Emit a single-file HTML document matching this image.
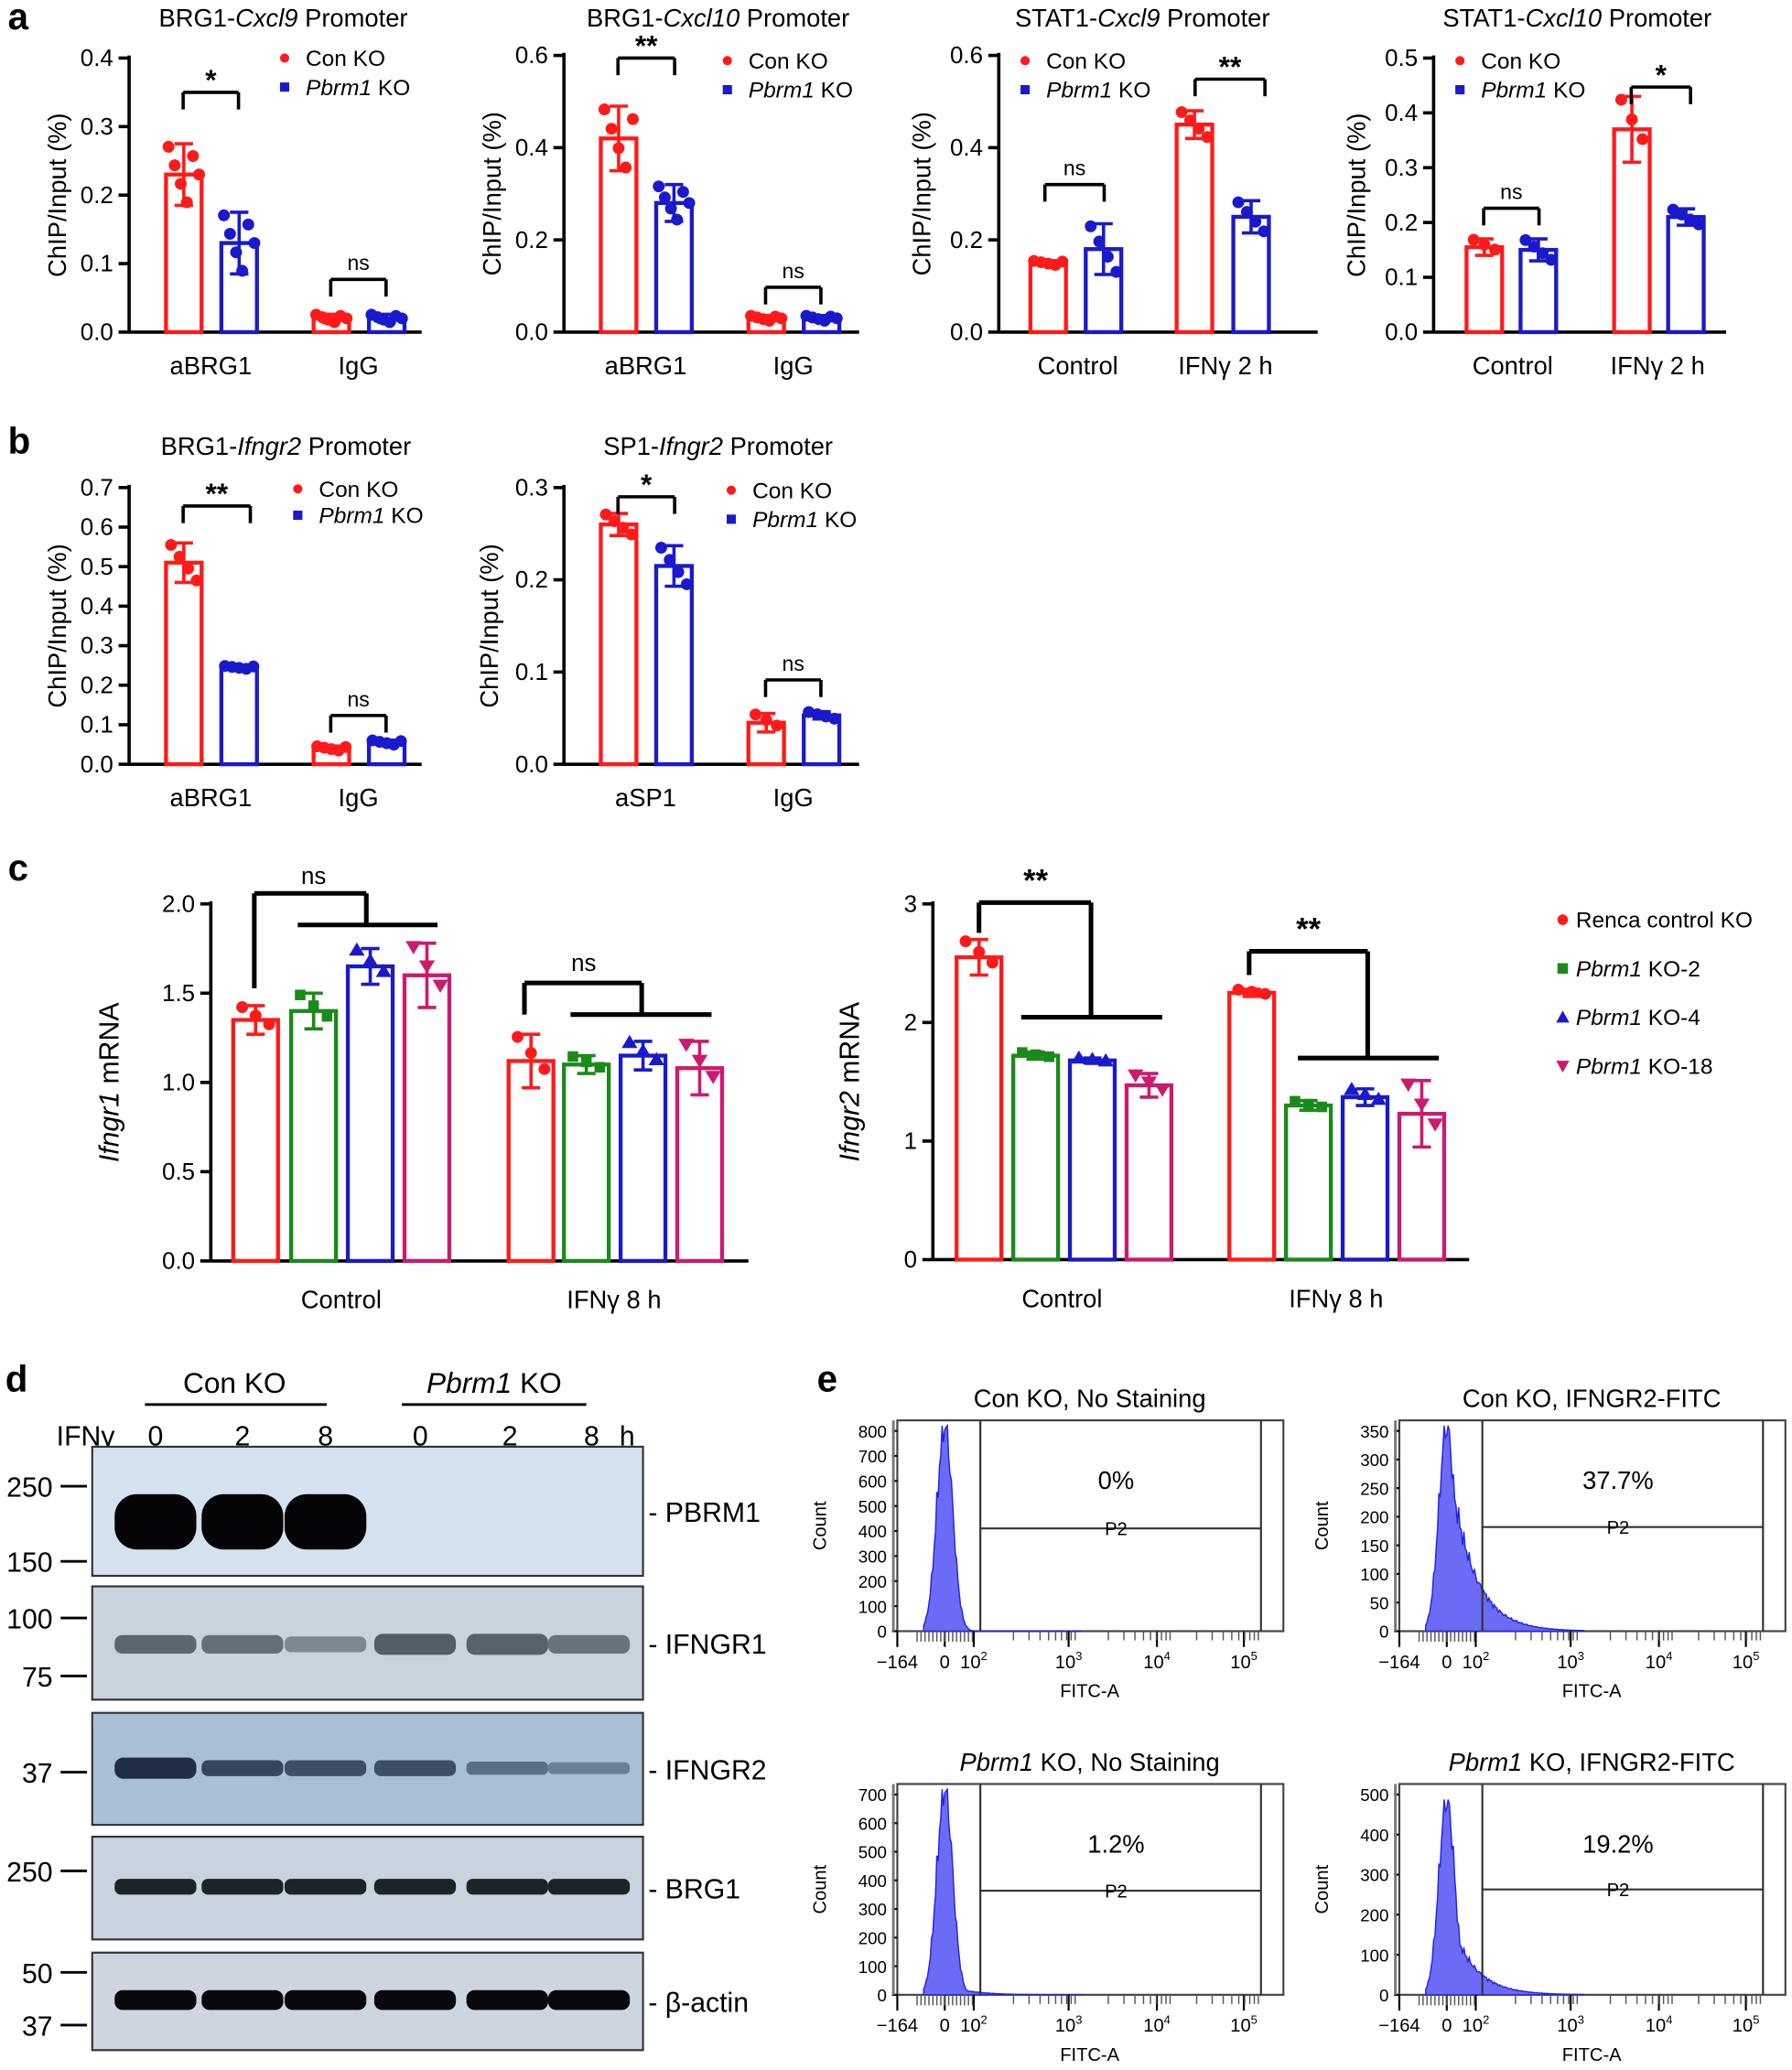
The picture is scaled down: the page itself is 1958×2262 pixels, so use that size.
<!DOCTYPE html>
<html><head><meta charset="utf-8">
<style>
html,body{margin:0;padding:0;background:#fff;}
svg{display:block;}
text{font-family:"Liberation Sans",sans-serif;fill:#000;}
</style></head>
<body>
<svg id="s" width="1958" height="2262" viewBox="0 0 1360 1571" xmlns="http://www.w3.org/2000/svg"></svg>
<script>
const S=document.getElementById('s');let H='';
const R='#ff1a1a',B='#1a1acc',G='#1a8a1a',M='#cc1a6e';
function t(x,y,s,sz,o){o=o||{};H+=`<text x="${x}" y="${y}" font-size="${sz}" text-anchor="${o.a||'middle'}" ${o.w?'font-weight="bold"':''} ${o.i?'font-style="italic"':''} ${o.r?`transform="rotate(-90 ${x} ${y})"`:''}>${s}</text>`;}
function L(x1,y1,x2,y2,w,c){H+=`<line x1="${x1}" y1="${y1}" x2="${x2}" y2="${y2}" stroke="${c||'#000'}" stroke-width="${w||2}"/>`;}
function bar(ax,yt,yb,ymax,x,w,v,c,err,n,shape){
 const sc=(yb-yt)/ymax,y=yb-v*sc,cx=x+w/2;
 H+=`<rect x="${x}" y="${y}" width="${w}" height="${yb-y}" fill="none" stroke="${c}" stroke-width="3"/>`;
 const e=err*sc;L(cx,y-e,cx,y+e,2.5,c);L(cx-7,y-e,cx+7,y-e,2.5,c);L(cx-7,y+e,cx+7,y+e,2.5,c);
 for(let i=0;i<n;i++){const dx=(i-(n-1)/2)*(w/(n+1))*1.2,dy=((i*37)%7-3)/3*e*0.9;
  const px=cx+dx,py=y+dy;
  if(shape=='s')H+=`<rect x="${px-4}" y="${py-4}" width="8" height="8" fill="${c}"/>`;
  else if(shape=='t')H+=`<polygon points="${px},${py-6} ${px-6},${py+4} ${px+6},${py+4}" fill="${c}"/>`;
  else if(shape=='v')H+=`<polygon points="${px},${py+6} ${px-6},${py-4} ${px+6},${py-4}" fill="${c}"/>`;
  else H+=`<circle cx="${px}" cy="${py}" r="4.5" fill="${c}"/>`;}
}
function axis(ax,yt,yb,ymax,ticks,xr,lab){
 L(ax,yt-2,ax,yb+1,2.5);L(ax,yb,xr,yb,2.5);
 ticks.forEach(v=>{const y=yb-v*(yb-yt)/ymax;L(ax-8,y,ax,y,2.5);t(ax-12,y+6,lab?lab(v):v.toFixed(1),18,{a:'end'});});
}
function brk(x1,x2,y,s,big){L(x1,y+13,x1,y,2.5);L(x1,y,x2,y,2.5);L(x2,y,x2,y+13,2.5);t((x1+x2)/2,y-(s=='ns'?7:2),s,s=='ns'?16:22,{w:s!='ns'});}
function legend(x,y1,y2){H+=`<circle cx="${x}" cy="${y1-6}" r="3.5" fill="${R}"/><rect x="${x-3.5}" y="${y2-9.5}" width="7" height="7" fill="${B}"/>`;
 t(x+16,y1,'Con KO',17,{a:'start'});H+=`<text x="${x+16}" y="${y2}" font-size="17"><tspan font-style="italic">Pbrm1</tspan> KO</text>`;}
function title(x,y,a,it,b){H+=`<text x="${x}" y="${y}" font-size="19" text-anchor="middle">${a}<tspan font-style="italic">${it}</tspan>${b}</text>`;}
// panel letters
t(6,22,'a',28,{w:1,a:'start'});t(6,344,'b',28,{w:1,a:'start'});t(6,668,'c',28,{w:1,a:'start'});t(4,1056,'d',28,{w:1,a:'start'});t(620,1056,'e',28,{w:1,a:'start'});
function chip(ax,yt,yb,ymax,ticks,xr,bars,cats,ti,leg,brks,yl){
 axis(ax,yt,yb,ymax,ticks,xr);
 bars.forEach(b=>bar(ax,yt,yb,ymax,b[0],27,b[1],b[2],b[3],b[4]));
 cats.forEach(c=>t(c[0],yb+32,c[1],19));
 title(ti[0],ti[1],ti[2],ti[3],ti[4]);legend(leg[0],leg[1],leg[2]);
 brks.forEach(k=>brk(k[0],k[1],k[2],k[3]));
 t(yl,(yt+yb)/2,'ChIP/Input (%)',19,{r:1});
}
chip(98,44,252,.4,[0,.1,.2,.3,.4],320,[[126,.23,R,.045,6],[168,.13,B,.045,6],[238,.02,R,.006,6],[280,.02,B,.006,6]],[[160,'aBRG1'],[272,'IgG']],[215,20,'BRG1-','Cxcl9',' Promoter'],[216,50,72],[[139,181,70,'*'],[251,293,212,'ns']],50);
chip(428,42,252,.6,[0,.2,.4,.6],652,[[456,.42,R,.07,5],[498,.28,B,.04,6],[568,.03,R,.006,6],[610,.03,B,.006,6]],[[490,'aBRG1'],[602,'IgG']],[545,20,'BRG1-','Cxcl10',' Promoter'],[552,52,74],[[469,512,44,'**'],[581,623,218,'ns']],380);
chip(758,42,252,.6,[0,.2,.4,.6],1000,[[782,.15,R,.005,5],[824,.18,B,.055,4],[893,.45,R,.03,4],[936,.25,B,.035,4]],[[818,'Control'],[930,'IFNγ 2 h']],[867,20,'STAT1-','Cxcl9',' Promoter'],[778,52,74],[[793,838,140,'ns'],[907,960,60,'**']],706);
chip(1088,44,252,.5,[0,.1,.2,.3,.4,.5],1310,[[1113,.155,R,.015,3],[1154,.15,B,.02,4],[1225,.37,R,.06,3],[1266,.21,B,.015,4]],[[1148,'Control'],[1258,'IFNγ 2 h']],[1197,20,'STAT1-','Cxcl10',' Promoter'],[1108,52,74],[[1126,1168,158,'ns'],[1238,1283,66,'*']],1036);
chip(98,370,580,.7,[0,.1,.2,.3,.4,.5,.6,.7],320,[[126,.51,R,.05,4],[168,.245,B,.004,5],[238,.04,R,.006,5],[280,.055,B,.006,5]],[[160,'aBRG1'],[272,'IgG']],[217,345,'BRG1-','Ifngr2',' Promoter'],[226,377,397],[[139,190,384,'**'],[251,293,543,'ns']],50);
chip(428,370,580,.3,[0,.1,.2,.3],652,[[456,.26,R,.012,4],[498,.215,B,.022,4],[568,.045,R,.01,3],[610,.053,B,.004,4]],[[490,'aSP1'],[602,'IgG']],[545,345,'SP1-','Ifngr2',' Promoter'],[555,378,400],[[469,512,377,'*'],[581,623,516,'ns']],378);
// panel c
function qpcr(ax,yt,yb,ymax,ticks,xr,lab,g1,g2,vals,errs,cats,yl,ylt){
 axis(ax,yt,yb,ymax,ticks,xr,lab);
 const cs=[R,G,B,M],sh=['c','s','t','v'];
 [g1,g2].forEach((g,gi)=>g.forEach((x,i)=>bar(ax,yt,yb,ymax,x,34,vals[gi][i],cs[i],errs[gi][i],3,sh[i])));
 t(cats[0],yb+36,'Control',19);t(cats[1],yb+36,'IFNγ 8 h',19);
 H+=`<text x="${yl}" y="${(yt+yb)/2}" font-size="21" text-anchor="middle" transform="rotate(-90 ${yl} ${(yt+yb)/2})"><tspan font-style="italic">${ylt}</tspan> mRNA</text>`;
}
qpcr(160,686,957,2,[0,.5,1,1.5,2],568,v=>v.toFixed(1),[177,221,264,307],[386,428,471,514],[[1.35,1.4,1.65,1.6],[1.12,1.1,1.15,1.08]],[[.08,.1,.1,.18],[.15,.05,.08,.15]],[259,466],90,'Ifngr1');
function tree(x1,yb,ytop,x2,yl,l1,l2,s,sx,sy){L(x1,yb,x1,ytop,3.5);L(x1,ytop,x2,ytop,3.5);L(x2,ytop,x2,yl,3.5);L(l1,yl,l2,yl,3.5);t(sx,sy,s,s=='ns'?18:24,{w:s!='ns'});}
tree(193,750,678,278,702,226,332,'ns',238,671);
tree(398,770,746,487,770,433,540,'ns',443,737);
qpcr(708,686,956,3,[0,1,2,3],1115,v=>v.toFixed(0),[726,769,812,855],[933,976,1019,1062],[[2.55,1.72,1.68,1.47],[2.25,1.3,1.37,1.23]],[[.15,.03,.02,.1],[.03,.04,.07,.28]],[806,1014],652,'Ifngr2');
tree(743,708,685,828,772,775,882,'**',786,676);
tree(948,740,722,1038,803,985,1092,'**',993,713);
// c legend
const lg=[['Renca control KO','',R,'c'],['Pbrm1',' KO-2',G,'s'],['Pbrm1',' KO-4',B,'t'],['Pbrm1',' KO-18',M,'v']];
lg.forEach((l,i)=>{const y=704+i*37,x=1186;
 if(l[3]=='c')H+=`<circle cx="${x}" cy="${y-6}" r="4" fill="${l[2]}"/>`;
 else if(l[3]=='s')H+=`<rect x="${x-4}" y="${y-10}" width="8" height="8" fill="${l[2]}"/>`;
 else if(l[3]=='t')H+=`<polygon points="${x},${y-11} ${x-5},${y-2} ${x+5},${y-2}" fill="${l[2]}"/>`;
 else H+=`<polygon points="${x},${y-1} ${x-5},${y-10} ${x+5},${y-10}" fill="${l[2]}"/>`;
 if(i==0)t(1196,y,l[0],17,{a:'start'});else H+=`<text x="1196" y="${y}" font-size="17"><tspan font-style="italic">${l[0]}</tspan>${l[1]}</text>`;});
// panel d
t(178,1057,'Con KO',22);L(110,1066,248,1066,2);
H+=`<text x="375" y="1057" font-size="22" text-anchor="middle"><tspan font-style="italic">Pbrm1</tspan> KO</text>`;L(305,1066,445,1066,2);
t(65,1097,'IFNγ',21);[[118,'0'],[184,'2'],[247,'8'],[319,'0'],[387,'2'],[449,'8'],[476,'h']].forEach(a=>t(a[0],1097,a[1],21));
const lanes=[118,184,247,315,385,447];
function blot(y1,y2,bg,name,bands){
 H+=`<rect x="70" y="${y1}" width="418" height="${y2-y1}" fill="${bg}" stroke="#333" stroke-width="1.5"/>`;
 const cy=(y1+y2)/2;bands.forEach((b,i)=>{if(b[0]>0)H+=`<rect x="${lanes[i]-31}" y="${b[1]-b[0]/2}" width="62" height="${b[0]}" rx="${b[0]/2.5}" fill="${b[2]}"/>`;});
 t(492,cy+8,'- '+name,21,{a:'start'});
}
blot(1098,1196,'#d4e1ee','PBRM1',[[42,1155,'#050508'],[42,1155,'#050508'],[42,1155,'#050508'],[0],[0],[0]]);
blot(1204,1290,'#c9d3de','IFNGR1',[14,14,12,16,16,14].map((h,i)=>[h,1248,['#5d6670','#666f79','#7e8790','#555d66','#59616a','#6a727b'][i]]));
blot(1300,1385,'#a9bfd6','IFNGR2',[16,12,12,12,10,9].map((h,i)=>[h,1342,['#1f2e44','#34465d','#3d4f66','#3d4f66','#5a6e86','#6a7e96'][i]]));
blot(1394,1472,'#c8d3df','BRG1',lanes.map(()=>[12,1432,'#1e2328']));
blot(1482,1556,'#cdd6e0','β-actin',lanes.map(()=>[15,1518,'#08090b']));
[[1128,'250'],[1185,'150'],[1228,'100'],[1272,'75'],[1345,'37'],[1420,'250'],[1497,'50'],[1537,'37']].forEach(m=>{t(40,m[0]+8,m[1],21,{a:'end'});L(46,m[0],66,m[0],2);});
// panel e
function flow(ox,oy,ti,it,ymax,step,pct,gy,peak,tail){
 const x0=ox,x1=ox+293,yt=oy,yb=oy+160;
 H+=`<text x="${ox+146}" y="${oy-10}" font-size="19" text-anchor="middle">${it?'<tspan font-style="italic">Pbrm1</tspan>':'Con'} KO, ${ti}</text>`;
 H+=`<rect x="${x0}" y="${yt}" width="${x1-x0}" height="${yb-yt}" fill="none" stroke="#444" stroke-width="1.5"/>`;
 // histogram
 let p=`M${ox+20} ${yb}`;
 for(let x=ox+20;x<=ox+140;x+=1){const d=x-(ox+36);let h=Math.exp(-d*d/(2*36))*(d<0?1:1);
  if(d>0)h=Math.max(Math.exp(-d*d/72),tail*Math.exp(-d/18)*Math.min(1,d/6));
  h*=(1+0.12*Math.sin(x*2.3)*Math.sin(x*0.7));
  p+=` L${x} ${yb-Math.min(1,h)*(yb-yt-4)*peak}`;}
 p+=` L${ox+140} ${yb} Z`;
 H+=`<path d="${p}" fill="#6b6bf5" stroke="#2323e0" stroke-width="1"/>`;
 L(ox+63,yt,ox+63,yb,1.5,'#333');L(ox+276,yt,ox+276,yb,1.5,'#333');L(ox+63,gy,ox+276,gy,1.5,'#333');
 t(ox+166,oy+52,pct,19);t(ox+166,gy+5,'P2',14);
 for(let v=0;v<=ymax;v+=step){const y=yb-v*(yb-yt-8)/ymax;L(ox-4,y,ox,y,1.5);t(ox-8,y+5,v,13,{a:'end'});}
 L(ox-3,yt,ox-3,yb,2,'#777');
 const lx=[[ox,'−164'],[ox+36,'0'],[ox+58,'10<tspan font-size="9" dy="-6">2</tspan>'],[ox+130,'10<tspan font-size="9" dy="-6">3</tspan>'],[ox+197,'10<tspan font-size="9" dy="-6">4</tspan>'],[ox+263,'10<tspan font-size="9" dy="-6">5</tspan>']];
 lx.forEach(a=>{t(a[0],yb+28,a[1],14);L(a[0],yb,a[0],yb+12,1.5);});
 for(let x=ox+15;x<ox+60;x+=3)L(x,yb,x,yb+8,1,'#555');
 [ox+68,ox+140,ox+207].forEach(b=>{for(let k=0;k<9;k++){const x=b+Math.log10(k+2)*67;L(x,yb,x,yb+7,1,'#555');}});
 t(ox+146,yb+50,'FITC-A',14);t(ox-54,oy+80,'Count',14,{r:1});
}
flow(681,1078,'No Staining',0,800,100,'0%',1160,1,0);
flow(1062,1078,'IFNGR2-FITC',0,350,50,'37.7%',1159,1,0.9);
flow(681,1354,'No Staining',1,700,100,'1.2%',1435,1,0.05);
flow(1062,1354,'IFNGR2-FITC',1,500,100,'19.2%',1434,0.95,0.45);
S.innerHTML=H;
</script>
</body></html>
